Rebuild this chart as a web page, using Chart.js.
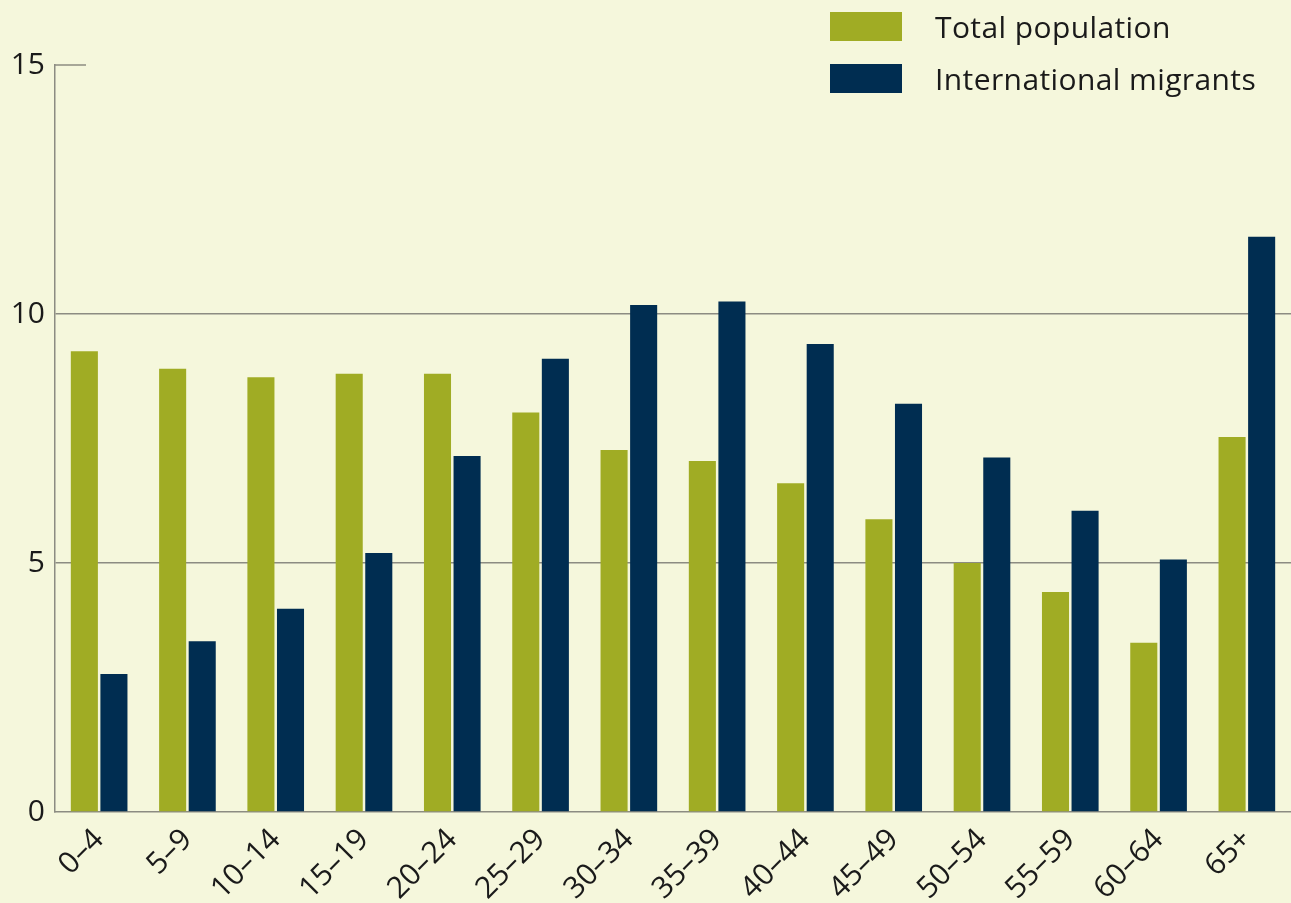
<!DOCTYPE html>
<html>
<head>
<meta charset="utf-8">
<script src="https://cdn.jsdelivr.net/npm/chart.js@4/dist/chart.umd.min.js"></script>
<style>
    html, body { margin: 0; padding: 0; background: #f5f7dc; }
    #wrap { position: relative; width: 1291px; height: 903px; }
    #legend { position: absolute; left: 830px; top: 12px; font-family: "Open Sans", sans-serif; font-size: 30px; letter-spacing: 0.4px; color: #1a1a1a; }
    .item { display: flex; align-items: center; height: 29px; margin-bottom: 23px; }
    .swatch { width: 72px; height: 29px; margin-right: 33px; }
</style>
</head>
<body>
<div id="wrap">
    <canvas id="chart" width="1291" height="903"></canvas>
    <div id="legend"></div>
</div>
<script>
const ageGroups = ['0–4', '5–9', '10–14', '15–19', '20–24', '25–29', '30–34', '35–39', '40–44', '45–49', '50–54', '55–59', '60–64', '65+'];
const totalPopulation = [9.25, 8.9, 8.73, 8.8, 8.8, 8.02, 7.27, 7.05, 6.6, 5.88, 5.0, 4.42, 3.4, 7.53];
const internationalMigrants = [2.77, 3.43, 4.08, 5.2, 7.15, 9.1, 10.18, 10.25, 9.4, 8.2, 7.12, 6.05, 5.07, 11.55];
const yTicks = [0, 5, 10, 15];

const green = '#a0ac24';
const navy = '#002d51';
const axisGrey = '#8c8c82';

// short stub at the top of the y axis instead of a full grid line
const topStub = {
    id: 'topStub',
    afterDraw(chart) {
        const y = chart.scales.y.getPixelForValue(15);
        const x = chart.chartArea.left;
        const c = chart.ctx;
        c.save();
        c.strokeStyle = axisGrey;
        c.lineWidth = 1.5;
        c.beginPath();
        c.moveTo(x, y);
        c.lineTo(x + 31, y);
        c.stroke();
        c.restore();
    }
};

const ctx = document.getElementById('chart').getContext('2d');
const chart = new Chart(ctx, {
    type: 'bar',
    data: {
        labels: ageGroups,
        datasets: [
            { label: 'Total population', data: totalPopulation, backgroundColor: green },
            { label: 'International migrants', data: internationalMigrants, backgroundColor: navy }
        ]
    },
    options: {
        responsive: false,
        animation: false,
        datasets: { bar: { categoryPercentage: 0.67, barPercentage: 0.915 } },
        layout: { padding: { top: 65, right: 0, left: 0, bottom: 0 } },
        plugins: {
            legend: { display: false },
            tooltip: { enabled: false }
        },
        scales: {
            x: {
                grid: { color: 'transparent', drawTicks: false },
                border: { display: true, color: axisGrey, width: 1.5 },
                ticks: {
                    minRotation: 45,
                    maxRotation: 45,
                    padding: 10,
                    color: '#1a1a1a',
                    font: { family: '"Open Sans", sans-serif', size: 30 }
                },
                afterFit(scale) { scale.height = 91; }
            },
            y: {
                min: 0,
                max: 15,
                afterBuildTicks(scale) { scale.ticks = yTicks.map(v => ({ value: v })); },
                grid: {
                    drawTicks: false,
                    lineWidth: 1.5,
                    color: c => (c.tick && (c.tick.value === 5 || c.tick.value === 10)) ? axisGrey : 'transparent'
                },
                border: { display: true, color: axisGrey, width: 1.5 },
                ticks: {
                    padding: 10,
                    color: '#1a1a1a',
                    font: { family: '"Open Sans", sans-serif', size: 30 }
                },
                afterFit(scale) { scale.width = 55; }
            }
        }
    },
    plugins: [topStub]
});

const legendEl = document.getElementById('legend');
chart.data.datasets.forEach(ds => {
    const row = document.createElement('div');
    row.className = 'item';
    const sw = document.createElement('div');
    sw.className = 'swatch';
    sw.style.background = ds.backgroundColor;
    const txt = document.createElement('span');
    txt.textContent = ds.label;
    row.appendChild(sw);
    row.appendChild(txt);
    legendEl.appendChild(row);
});
</script>
</body>
</html>
